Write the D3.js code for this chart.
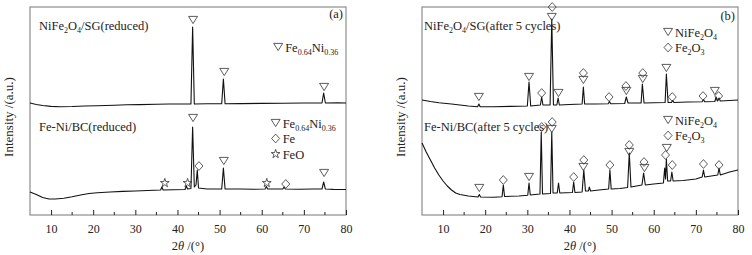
<!DOCTYPE html>
<html>
<head>
<meta charset="utf-8">
<script src="https://cdn.jsdelivr.net/npm/d3@7"></script>
<style>
  body { margin: 0; background: #fff; }
  svg { display: block; }
</style>
</head>
<body>
<script>
// ---- data (2theta in degrees, intensity in a.u.) ----
const xTicks = [10, 20, 30, 40, 50, 60, 70, 80];
const xMinorTicks = [15, 25, 35, 45, 55, 65, 75];

// panel (a)
const sgReduced = [[5,112],[6.5,110.5],[8,109.5],[10,108.6],[12,108.3],[15,108.5],[18,109],[21,109.3],[25,109.8],[28,110.2],[31,110.4],[35,110.8],[38,111],[41,111],[43.2,111],[43.6,188],[44.0,111],[47,111.2],[50.5,111.2],[50.9,136],[51.3,111.2],[55,111.4],[60,111.6],[65,111.8],[70,112],[74.3,112],[74.7,122],[75.1,112],[78,112.2],[80,112]];
const bcReduced = [[5,23],[6.5,20.5],[8,17.5],[9.5,16],[11,16],[13,16.8],[15,18.3],[17,20],[19,21.5],[21,22.3],[24,23],[27,23.6],[30,24],[33,24.5],[36.0,25],[36.3,28],[36.6,25],[39,25.2],[41.8,25.5],[42.1,29],[42.4,26],[43.2,26.5],[43.6,88],[44.0,28],[44.4,30],[44.7,45],[45.0,27],[47,26],[50.5,26],[50.9,47],[51.3,26],[55,26],[58,25.8],[60.8,26],[61.1,28.5],[61.4,26],[65.0,26],[65.3,28],[65.6,26],[69,25.8],[72,26],[74.3,26],[74.7,33],[75.1,26],[77,25.6],[80,25.5]];
const marksSgReduced = [["tri",43.7,195],["tri",51.1,143],["tri",74.8,128]];
const marksBcReduced = [["tri",43.7,97],["dia",45.1,49],["tri",51.0,54],["tri",74.8,42],["star",37.0,32],["star",42.4,32],["star",61.2,32],["dia",65.7,31]];

// panel (b)
const sgCycled = [[5,115],[7,113.5],[9,112.3],[12,111],[14,110],[16,109],[18.2,108.3],[18.5,111],[18.8,108.3],[22,108.2],[26,108.6],[30.0,109],[30.4,133],[30.8,109],[33.1,110],[33.4,118],[33.7,110],[35.4,110],[35.8,196],[36.2,110],[37.0,110],[37.3,117],[37.6,110],[40,110.5],[43.0,111],[43.3,128],[43.6,111],[46,111],[49.2,111.2],[49.5,113.5],[49.8,111.2],[53.1,111.5],[53.5,118],[53.9,112],[57.0,112],[57.3,131],[57.7,112],[60,112.3],[62.7,112.5],[63.0,141],[63.4,112.5],[64.2,112.5],[64.5,114.5],[64.8,112.5],[68,113],[71.5,113.3],[71.8,115.5],[72.1,113.3],[74.5,113.5],[74.8,118],[75.1,114],[75.5,117],[75.8,114],[78,114.5],[80,115]];
const bcCycled = [[5,72],[6,63],[7,55],[8,47],[9,40],[10,34],[11,29],[12,25],[13,22],[14,20.5],[16,19],[18.3,18],[18.6,20.5],[18.9,18],[22,17.8],[24.0,18.3],[24.3,30],[24.6,18.5],[28,19],[30.1,19.8],[30.4,32],[30.7,20],[33.0,21],[33.3,83],[33.6,21],[35.5,21.5],[35.8,83],[36.1,22],[37.1,22],[37.4,32],[37.7,22],[40.7,22.5],[41.0,33],[41.3,22.5],[43.0,23],[43.4,45],[43.8,24],[44.5,24],[44.7,28],[45.0,24],[47,25],[49.3,26],[49.6,45],[49.9,26],[52,26.5],[53.8,27.5],[54.2,62],[54.6,28],[57.2,30],[57.6,42],[58.0,30],[60,31],[62.3,32],[62.6,47],[62.8,36],[63.0,56],[63.3,34],[64.0,34],[64.3,43],[64.6,34],[67,34.5],[70,36],[71.5,38],[71.8,45],[72.1,38],[75.2,40],[75.5,47],[75.8,40],[78,43],[80,45]];
const marksSgCycled = [["tri",18.5,118],["tri",30.4,138],["dia",33.4,122],["tri",35.8,198],["dia",35.9,208],["tri",37.4,122],["dia",43.3,142],["tri",43.3,135],["dia",49.4,118],["dia",53.4,129],["tri",53.5,124],["dia",57.4,142],["tri",57.4,136],["tri",63.0,147],["dia",64.4,118],["dia",71.7,119],["tri",74.5,124],["dia",75.4,119]];
const marksBcCycled = [["tri",18.6,27],["dia",24.3,35],["tri",30.4,38],["dia",33.4,88],["tri",35.8,86],["dia",35.9,93],["dia",41.0,38],["dia",43.4,55],["tri",43.3,48],["dia",49.6,50],["dia",54.2,70],["tri",54.2,63],["dia",57.7,53],["tri",57.8,47],["tri",63.1,67],["dia",62.8,60],["dia",64.4,50],["dia",71.8,51],["dia",75.5,50]];

const panels = [
  { tag: "(a)", left: 30,
    series: [sgReduced, bcReduced],
    marks: [marksSgReduced, marksBcReduced],
    names: ["NiFe_2O_4/SG(reduced)", "Fe-Ni/BC(reduced)"],
    legends: [[["tri","Fe_{0.64}Ni_{0.36}"]], [["tri","Fe_{0.64}Ni_{0.36}"],["dia","Fe"],["star","FeO"]]] },
  { tag: "(b)", left: 422,
    series: [sgCycled, bcCycled],
    marks: [marksSgCycled, marksBcCycled],
    names: ["NiFe_2O_4/SG(after 5 cycles)", "Fe-Ni/BC(after 5 cycles)"],
    legends: [[["tri","NiFe_2O_4"],["dia","Fe_2O_3"]], [["tri","NiFe_2O_4"],["dia","Fe_2O_3"]]] }
];

// ---- drawing ----
const W = 752, H = 255;
const pw = 316, plotTop = 7, plotBottom = 215;
const font = "'Liberation Serif', 'Times New Roman', serif";
const ink = "#222";

const svg = d3.select("body").append("svg")
    .attr("width", W).attr("height", H)
    .style("font-family", font);

const shapes = {
  tri: "M-4.5,-3.6L4.5,-3.6L0,3.6Z",
  dia: "M0,-4.4L4,0L0,4.4L-4,0Z",
  star: d3.symbol(d3.symbolStar, 24)()
};

// text with _x or _{xx} subscripts
function richText(sel, str, size) {
  const parts = str.split(/(_\{[^}]*\}|_.)/).filter(s => s.length);
  let sub = false;
  parts.forEach(p => {
    if (p[0] === "_") {
      const t = p[1] === "{" ? p.slice(2, -1) : p.slice(1);
      sel.append("tspan").attr("dy", sub ? 0 : 3).attr("font-size", size * 0.64).text(t);
      sub = true;
    } else {
      sel.append("tspan").attr("dy", sub ? -3 : 0).text(p);
      sub = false;
    }
  });
}

panels.forEach((p, k) => {
  const x = d3.scaleLinear([5, 80], [p.left, p.left + pw]);
  const y = d3.scaleLinear([0, 208], [plotBottom, plotTop]);
  const g = svg.append("g");

  // frame
  g.append("rect")
      .attr("x", x(5)).attr("y", y(208))
      .attr("width", x(80) - x(5)).attr("height", y(0) - y(208))
      .attr("fill", "none").attr("stroke", "#777").attr("stroke-width", 1);

  // x axis, ticks pointing inwards
  const ax = g.append("g").attr("transform", `translate(0,${plotBottom})`)
      .call(d3.axisBottom(x).tickValues(xTicks).tickSize(-5).tickPadding(9).tickFormat(d3.format("d")));
  ax.select(".domain").remove();
  ax.selectAll(".tick line").attr("stroke", ink);
  ax.selectAll(".tick text").attr("font-size", 12).attr("font-family", font).attr("fill", ink);
  g.append("g").selectAll("line").data(xMinorTicks).join("line")
      .attr("x1", d => x(d)).attr("x2", d => x(d))
      .attr("y1", plotBottom).attr("y2", plotBottom - 3)
      .attr("stroke", ink);

  const xl = g.append("text")
      .attr("x", (x(5) + x(80)) / 2).attr("y", 250)
      .attr("text-anchor", "middle").attr("font-size", 12.5).attr("fill", ink);
  xl.append("tspan").text("2");
  xl.append("tspan").attr("font-style", "italic").text("θ");
  xl.append("tspan").text(" /(°)");

  g.append("text")
      .attr("transform", `translate(${p.left - 17},117) rotate(-90)`)
      .attr("text-anchor", "middle").attr("font-size", 13).attr("fill", ink)
      .text("Intensity /(a.u.)");

  // patterns
  const line = d3.line().x(d => x(d[0])).y(d => y(d[1]));
  p.series.forEach(s => {
    g.append("path").datum(s)
        .attr("d", line)
        .attr("fill", "none").attr("stroke", "#111")
        .attr("stroke-width", 1.1).attr("stroke-linejoin", "round");
  });

  // phase markers
  p.marks.forEach(m => {
    g.append("g").selectAll("path").data(m).join("path")
        .attr("transform", d => `translate(${x(d[1])},${y(d[2])})`)
        .attr("d", d => shapes[d[0]])
        .attr("fill", "none").attr("stroke", "#333").attr("stroke-width", 0.8);
  });

  // sample names
  const nameY = [y(185), y(84)];
  p.names.forEach((n, i) => {
    const t = g.append("text")
        .attr("x", p.left + (k ? 2 : 9)).attr("y", nameY[i])
        .attr("font-size", 12.5).attr("fill", ink);
    richText(t, n, 12.5);
  });

  // panel tag
  g.append("text")
      .attr("x", x(80) - 3).attr("y", y(k ? 195 : 197))
      .attr("text-anchor", "end").attr("font-size", 12.5).attr("fill", ink)
      .text(p.tag);

  // legends
  const legX = k ? [x(63.4), x(63.4)] : [x(63.9), x(63.3)];
  const legY = k ? [y(183), y(95)] : [y(168), y(92)];
  p.legends.forEach((lg, i) => {
    lg.forEach((it, j) => {
      const cy = legY[i] + j * 15.5;
      g.append("path")
          .attr("transform", `translate(${legX[i]},${cy})`)
          .attr("d", shapes[it[0]])
          .attr("fill", "none").attr("stroke", "#333").attr("stroke-width", 0.8);
      const t = g.append("text")
          .attr("x", legX[i] + 7).attr("y", cy + 4.5)
          .attr("font-size", 12.5).attr("fill", ink);
      richText(t, it[1], 12.5);
    });
  });
});
</script>
</body>
</html>
